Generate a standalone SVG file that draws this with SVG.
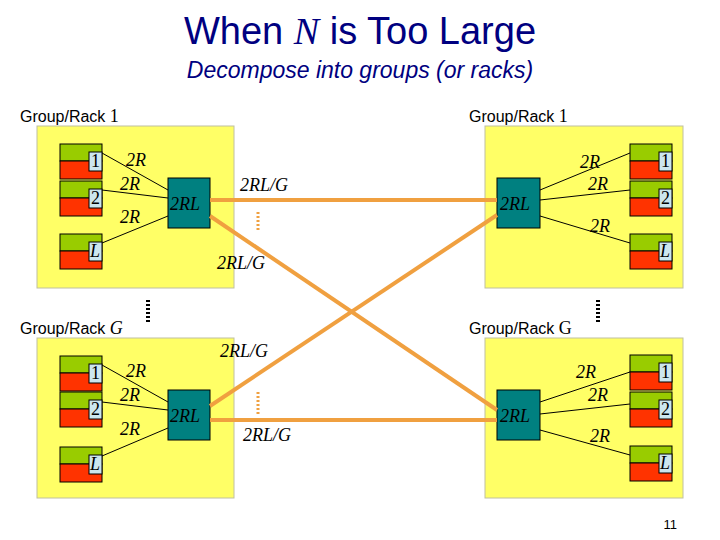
<svg xmlns="http://www.w3.org/2000/svg" width="720" height="540" viewBox="0 0 720 540">
<defs><style>
.box{fill:#ffff66;stroke:#c0c0a0;stroke-width:1}
.g{fill:#99cc00;stroke:#000;stroke-width:1}
.r{fill:#ff3300;stroke:#000;stroke-width:1}
.lb{fill:#cce6ee;stroke:#000;stroke-width:1}
.sw{fill:#008080;stroke:#000;stroke-width:1}
.m{font-family:'Liberation Serif',serif;font-style:italic;font-size:18px}
.n{font-family:'Liberation Serif',serif;font-size:18px}
.s{font-family:'Liberation Sans',sans-serif;font-size:16px}
.t{stroke:#000;stroke-width:1}
.o{stroke:#f0a040;stroke-width:4;fill:none}
.od{stroke:#f0a040;stroke-width:3;stroke-dasharray:2 2}
.kd{stroke:#000;stroke-width:4;stroke-dasharray:2 2}
</style>
<g id="srv"><rect class="g" x="0" y="0" width="42" height="17"/><rect class="r" x="0" y="17" width="42" height="18"/><rect class="lb" x="29" y="8" width="13" height="19"/></g>
</defs>
<rect width="720" height="540" fill="#fff"/>
<text x="360" y="44" text-anchor="middle" font-family="Liberation Sans,sans-serif" font-size="38" fill="#000080">When <tspan font-family="Liberation Serif,serif" font-style="italic">N</tspan> is Too Large</text>
<text x="360" y="78" text-anchor="middle" font-family="Liberation Sans,sans-serif" font-size="23" font-style="italic" fill="#000080">Decompose into groups (or racks)</text>
<g id="g1">
<text class="s" x="20" y="122">Group/Rack <tspan class="n">1</tspan></text>
<rect class="box" x="37" y="126" width="197" height="162"/>
<line class="t" x1="102" y1="153" x2="168" y2="190"/><line class="t" x1="102" y1="190" x2="168" y2="198"/><line class="t" x1="102" y1="243" x2="168" y2="216"/>
<use href="#srv" x="60" y="144"/><use href="#srv" x="60" y="181"/><use href="#srv" x="60" y="234"/>
<text class="n" x="91" y="167">1</text><text class="n" x="91" y="204">2</text><text class="m" x="90" y="257">L</text>
<text class="m" x="126" y="166">2R</text><text class="m" x="120" y="190">2R</text><text class="m" x="120" y="223">2R</text>
<rect class="sw" x="168" y="178" width="42" height="50"/><text class="m" x="170" y="210">2RL</text>
</g>
<g id="g2">
<text class="s" x="469" y="122">Group/Rack <tspan class="n">1</tspan></text>
<rect class="box" x="485" y="126" width="198" height="162"/>
<line class="t" x1="540" y1="190" x2="630" y2="153"/><line class="t" x1="540" y1="200" x2="630" y2="190"/><line class="t" x1="540" y1="216" x2="630" y2="243"/>
<use href="#srv" x="630" y="144"/><use href="#srv" x="630" y="181"/><use href="#srv" x="630" y="234"/>
<text class="n" x="661" y="167">1</text><text class="n" x="661" y="204">2</text><text class="m" x="660" y="257">L</text>
<text class="m" x="580" y="168">2R</text><text class="m" x="588" y="190">2R</text><text class="m" x="590" y="232">2R</text>
<rect class="sw" x="497" y="178" width="43" height="50"/><text class="m" x="500" y="210">2RL</text>
</g>
<g id="g3">
<text class="s" x="20" y="334">Group/Rack <tspan class="m">G</tspan></text>
<rect class="box" x="37" y="338" width="197" height="160"/>
<line class="t" x1="102" y1="365" x2="168" y2="402"/><line class="t" x1="102" y1="402" x2="168" y2="410"/><line class="t" x1="102" y1="456" x2="168" y2="428"/>
<use href="#srv" x="60" y="356"/><use href="#srv" x="60" y="392"/><use href="#srv" x="60" y="447"/>
<text class="n" x="91" y="379">1</text><text class="n" x="91" y="415">2</text><text class="m" x="90" y="470">L</text>
<text class="m" x="126" y="377">2R</text><text class="m" x="120" y="401">2R</text><text class="m" x="120" y="435">2R</text>
<rect class="sw" x="168" y="390" width="42" height="50"/><text class="m" x="170" y="422">2RL</text>
</g>
<g id="g4">
<text class="s" x="469" y="334">Group/Rack <tspan class="n">G</tspan></text>
<rect class="box" x="485" y="338" width="198" height="160"/>
<line class="t" x1="540" y1="402" x2="630" y2="372"/><line class="t" x1="540" y1="414" x2="630" y2="404"/><line class="t" x1="540" y1="430" x2="630" y2="455"/>
<use href="#srv" x="630" y="355"/><use href="#srv" x="630" y="392"/><use href="#srv" x="630" y="446"/>
<text class="n" x="661" y="378">1</text><text class="n" x="661" y="415">2</text><text class="m" x="660" y="469">L</text>
<text class="m" x="576" y="378">2R</text><text class="m" x="588" y="401">2R</text><text class="m" x="590" y="442">2R</text>
<rect class="sw" x="497" y="390" width="43" height="50"/><text class="m" x="500" y="422">2RL</text>
</g>
<g id="connectors">
<line class="o" x1="210" y1="200" x2="497" y2="200"/>
<line class="o" x1="210" y1="216" x2="497" y2="410"/>
<line class="o" x1="210" y1="406" x2="497" y2="215"/>
<line class="o" x1="210" y1="420" x2="497" y2="420"/>
<line class="od" x1="258" y1="212" x2="258" y2="232"/>
<line class="od" x1="258" y1="392" x2="258" y2="414"/>
<line class="kd" x1="148" y1="300" x2="148" y2="323"/>
<line class="kd" x1="598" y1="300" x2="598" y2="323"/>
<text class="m" x="240" y="191">2RL/G</text>
<text class="m" x="217" y="269">2RL/G</text>
<text class="m" x="220" y="357">2RL/G</text>
<text class="m" x="243" y="441">2RL/G</text>
</g>
<text x="677" y="529" text-anchor="end" font-family="Liberation Sans,sans-serif" font-size="13">11</text>
</svg>
